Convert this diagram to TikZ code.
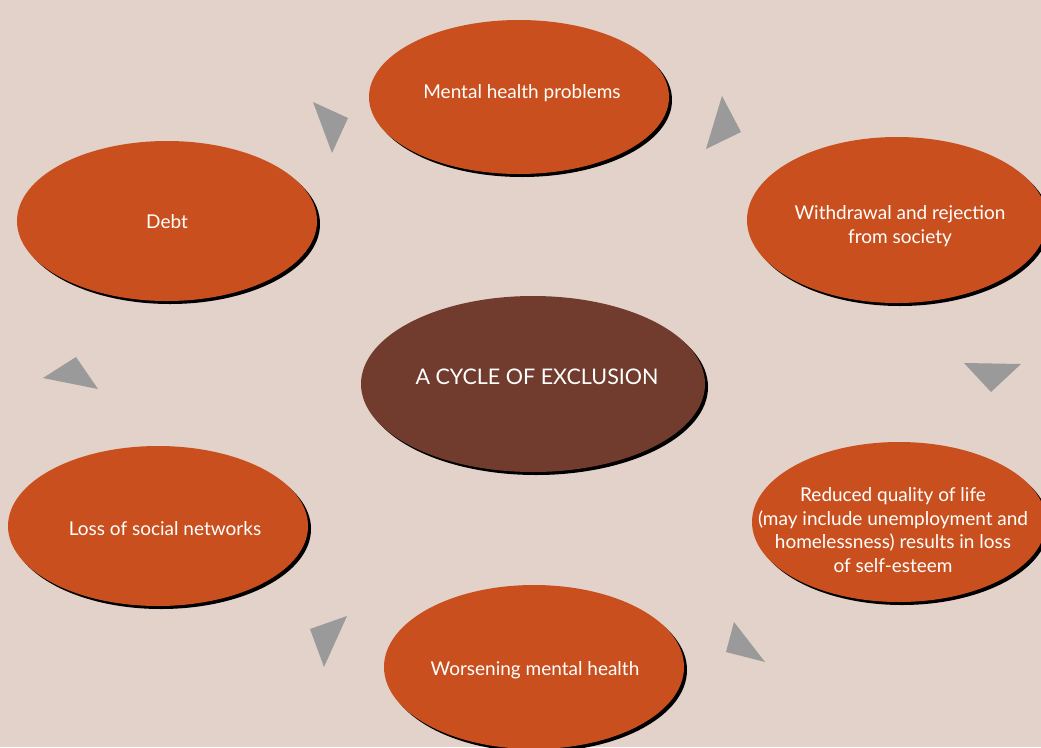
\documentclass[tikz,border=0pt]{standalone}
\usepackage{fontspec}
\setmainfont{Lato}
\usepackage{xcolor}
\usetikzlibrary{shapes.geometric,shadows}
\definecolor{paper}{HTML}{E2D2C9}
\definecolor{rust}{HTML}{C9501E}
\definecolor{cocoa}{HTML}{713C2E}
\definecolor{wedge}{HTML}{9A9A9A}
\tikzset{%
  bubble/.style={ellipse, fill=rust, inner sep=0pt,
    minimum width=300pt, minimum height=160pt,
    drop shadow={fill=black, opacity=1, shadow xshift=3pt, shadow yshift=-3pt}},
  hub/.style={bubble, fill=cocoa, minimum width=344pt, minimum height=176pt},
  caption/.style={text=white, align=center, inner sep=0pt,
    font=\fontsize{19}{23.5}\selectfont},
  wedge/.style={fill=wedge}
}

\begin{document}
\begin{tikzpicture}[x=1pt,y=-1pt]
\fill[paper] (0,0) rectangle (1041,747);
\useasboundingbox (0,0) rectangle (1041,747);
\node[hub] (cycle) at (533,384) {};
\node[bubble, minimum height=154pt] (mental) at (519,97) {};
\node[bubble] (debt) at (167,221) {};
\node[bubble, minimum height=166pt] (withdraw) at (897,220) {};
\node[bubble, minimum width=294pt] (reduced) at (899,522) {};
\node[bubble] (social) at (158,526) {};
\node[bubble, minimum height=164pt] (worse) at (534,667) {};
% texts
\node[caption, font=\fontsize{21.5}{26}\selectfont] (cycletxt) at (537,377) {A CYCLE OF EXCLUSION};
\node[caption] (mentaltxt) at (522,93) {Mental health problems};
\node[caption] (debttxt) at (167,222) {Debt};
\node[caption] (withdrawtxt) at (900,226) {Withdrawal and rejection\\from society};
\node[caption] (reducedtxt) at (893,530) {Reduced quality of life\\(may include unemployment and\\homelessness) results in loss\\of self-esteem};
\node[caption] (socialtxt) at (165,529) {Loss of social networks};
\node[caption] (worsetxt) at (535,670) {Worsening mental health};
% arrow wedges
\fill[wedge] (313,102) -- (348,118) -- (332,153) -- cycle;
\fill[wedge] (722,96) -- (741,132) -- (706,149) -- cycle;
\fill[wedge] (964,363) -- (1021,364) -- (991,392) -- cycle;
\fill[wedge] (734,622) -- (765,662) -- (726,652) -- cycle;
\fill[wedge] (347,616) -- (310,629) -- (324,667) -- cycle;
\fill[wedge] (76,357) -- (98,389) -- (43,378) -- cycle;
\end{tikzpicture}
\end{document}
